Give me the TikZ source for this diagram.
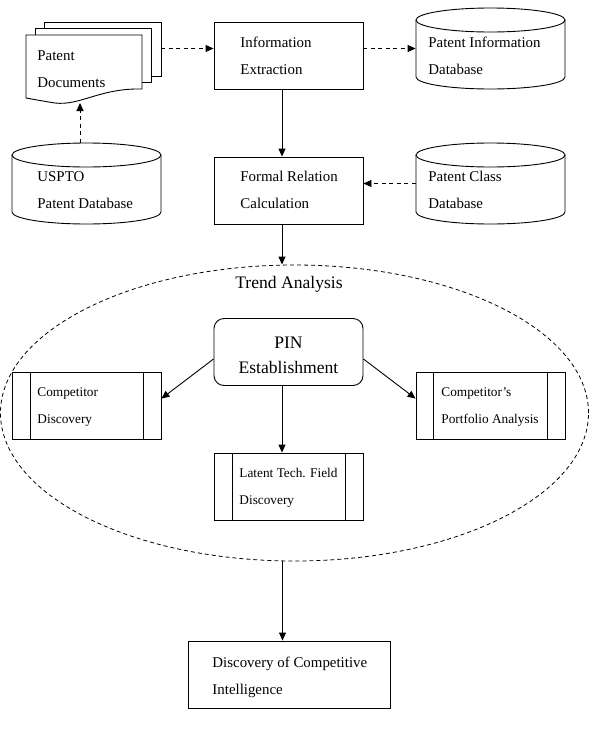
\documentclass[tikz,border=0pt]{standalone}
\usepackage{fontspec}
\setmainfont{Liberation Serif}
\usetikzlibrary{arrows.meta,shapes.geometric}
\begin{document}
\begin{tikzpicture}[x=1pt,y=-1pt,line width=0.9pt,
  box/.style={draw,rectangle,minimum width=149pt,minimum height=67pt,inner sep=0pt},
  ghost/.style={rectangle,minimum width=149pt,minimum height=81pt,inner sep=0pt},
  txt/.style={anchor=base west,inner sep=0pt,font=\fontsize{14.9}{17}\selectfont},
  stxt/.style={anchor=base west,inner sep=0pt,font=\fontsize{13.3}{15}\selectfont},
  big/.style={inner sep=0pt,font=\fontsize{17.6}{20}\selectfont},
  arr/.style={-{Triangle[length=8pt,width=7pt]}},
  darr/.style={arr,dash pattern=on 4pt off 3.5pt},
]
\useasboundingbox (0,0) rectangle (589,734);

% ---- Patent documents (stack)
\draw[fill=white] (44,22) rectangle (161,76);
\draw[fill=white] (35,28) rectangle (151,82);
\draw[fill=white] (26,35) -- (142,35) -- (142,89) .. controls (100,88) and (80,106) .. (55,103) .. controls (42,101) and (32,99) .. (26,98) -- cycle;
\node[rectangle,minimum width=135pt,minimum height=81pt,inner sep=0pt] (doc) at (93.5,62.5) {};
\coordinate (docb) at (80,103);
\node[txt] at (37,60.5) {Patent};
\node[txt] at (37,87.5) {Documents};

% ---- Cylinders
\newcommand{\dbcyl}[4]{%
  \draw ({(#1+#2)/2},{#3+12}) ellipse [x radius={(#2-#1)/2*1pt},y radius=12pt];
  \draw (#1,{#3+12}) -- (#1,{#4-12}) arc[start angle=180,end angle=360,x radius={(#2-#1)/2*1pt},y radius=12pt] -- (#2,{#3+12});}
\dbcyl{416}{565}{8}{89}
\dbcyl{416}{565}{143}{224}
\dbcyl{12}{161}{143}{224}
\node[ghost] (pid) at (490.5,48.5) {};
\node[ghost] (pcd) at (490.5,183.5) {};
\node[ghost] (usp) at (86.5,183.5) {};
\node[txt] at (428,47.5) {Patent Information};
\node[txt] at (428,74.5) {Database};
\node[txt] at (428,181.5) {Patent Class};
\node[txt] at (428,208.5) {Database};
\node[txt] at (37,181.5) {USPTO};
\node[txt] at (37,208.5) {Patent Database};

% ---- Process boxes
\node[box] (ie) at (288.5,55.5) {};
\node[txt] at (240,47.5) {Information};
\node[txt] at (240,74.5) {Extraction};
\node[box] (frc) at (288.5,190.5) {};
\node[txt] at (240,181.5) {Formal Relation};
\node[txt] at (240,208.5) {Calculation};

% ---- Trend analysis ellipse
\draw[line width=0.8pt,dash pattern=on 4pt off 3pt] (294.5,413) ellipse [x radius=294pt,y radius=148pt];
\node[ellipse,minimum width=588pt,minimum height=296pt,inner sep=0pt] (ta) at (294.5,413) {};
\node[big] at (289,284) {Trend Analysis};

% ---- PIN
\node[box,rounded corners=10pt] (pin) at (288.5,352) {};
\node[big,align=center] at (288.5,355) {PIN\\[5pt]Establishment};

% ---- Sub-processes
\node[box] (cd) at (86.5,405.5) {};
\draw ([xshift=18.5pt]cd.north west) -- ([xshift=18.5pt]cd.south west);
\draw ([xshift=-18pt]cd.north east) -- ([xshift=-18pt]cd.south east);
\node[stxt] at (37,396.5) {Competitor};
\node[stxt] at (37,423.5) {Discovery};

\node[box] (cpa) at (490.5,405.5) {};
\draw ([xshift=18pt]cpa.north west) -- ([xshift=18pt]cpa.south west);
\draw ([xshift=-18pt]cpa.north east) -- ([xshift=-18pt]cpa.south east);
\node[stxt] at (441,396.5) {Competitor’s};
\node[stxt] at (441,423.5) {Portfolio Analysis};

\node[box] (ltf) at (288.5,486.5) {};
\draw ([xshift=18.5pt]ltf.north west) -- ([xshift=18.5pt]ltf.south west);
\draw ([xshift=-18pt]ltf.north east) -- ([xshift=-18pt]ltf.south east);
\node[stxt] at (239,477) {Latent Tech. Field};
\node[stxt] at (239,504.5) {Discovery};

% ---- Final box
\node[box,minimum width=202pt] (dci) at (289,674.5) {};
\node[txt] at (212,667.5) {Discovery of Competitive};
\node[txt] at (212,694.5) {Intelligence};

% ---- Connectors
\draw[darr] (doc.east |- pid.center) -- (ie.west |- pid.center);
\draw[darr] (ie.east |- pid.center) -- (pid.west);
\draw[darr] (usp.north -| docb) -- (docb);
\draw[darr] (pcd.west) -- (frc.east |- pcd.center);
\draw[arr] ([xshift=-6.5pt]ie.south) -- ([xshift=-6.5pt]frc.north);
\draw[arr] ([xshift=-6.5pt]frc.south) -- ([xshift=-6.5pt]frc.south |- ta.north);
\draw[arr] ([yshift=-7pt]pin.west) -- ([yshift=-27pt]cd.north east);
\draw[arr] ([yshift=-7pt]pin.east) -- ([yshift=-27pt]cpa.north west);
\draw[arr] ([xshift=-6.5pt]pin.south) -- ([xshift=-6.5pt]ltf.north);
\draw[arr] ([xshift=-6.5pt]dci.north |- ta.south) -- ([xshift=-6.5pt]dci.north);
\end{tikzpicture}
\end{document}
